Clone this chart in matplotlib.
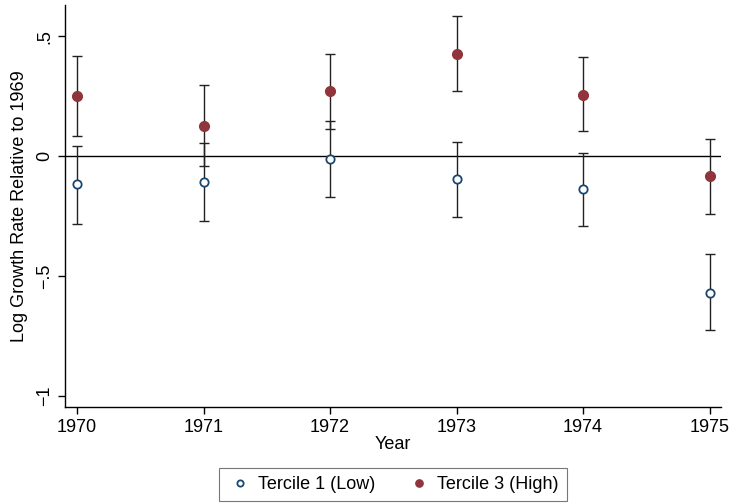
import numpy as np
import matplotlib.pyplot as plt

plt.rcParams['font.family'] = ['Liberation Sans', 'DejaVu Sans']

years = [1970, 1971, 1972, 1973, 1974, 1975]

# Tercile 1 (Low)
t1_est = [-0.118, -0.107, -0.012, -0.097, -0.139, -0.569]
t1_hi = [0.043, 0.053, 0.147, 0.057, 0.012, -0.409]
t1_lo = [-0.282, -0.270, -0.172, -0.253, -0.292, -0.727]

# Tercile 3 (High)
t3_est = [0.250, 0.126, 0.270, 0.427, 0.256, -0.085]
t3_hi = [0.417, 0.295, 0.425, 0.583, 0.412, 0.071]
t3_lo = [0.083, -0.040, 0.115, 0.270, 0.104, -0.241]

yticks = [-1, -0.5, 0, 0.5]
ytick_labels = ['\u22121', '\u2212.5', '0', '.5']

navy = '#1a476f'
maroon = '#90353b'

fig = plt.figure(figsize=(7.3, 5.04), dpi=100)
ax = fig.add_axes([65 / 730, 1 - 407 / 504, (721 - 65) / 730, (407 - 5) / 504])

ax.axhline(0, color='black', lw=1.0, zorder=1)

for est, lo, hi in [(t1_est, t1_lo, t1_hi), (t3_est, t3_lo, t3_hi)]:
    est = np.array(est)
    ax.errorbar(years, est, yerr=[est - np.array(lo), np.array(hi) - est],
                fmt='none', ecolor='#222222', elinewidth=1.0, capsize=3.3, capthick=1.0, zorder=2)

ax.plot(years, t1_est, 'o', ms=6, mfc='white', mec=navy, mew=1.3, ls='none',
        label='Tercile 1 (Low)', zorder=3)
ax.plot(years, t3_est, 'o', ms=7, mfc=maroon, mec=maroon, ls='none',
        label='Tercile 3 (High)', zorder=3)

ax.set_xlim(1969.905, 1975.09)
ax.set_ylim(-1.046, 0.630)
ax.set_xticks(years)
ax.set_xticklabels([str(y) for y in years], fontsize=13)
ax.set_yticks(yticks)
ax.set_yticklabels(ytick_labels, fontsize=13, rotation=90, va='center')
ax.tick_params(direction='out', length=5, width=1, color='black')

for s in ['top', 'right']:
    ax.spines[s].set_visible(False)
for s in ['left', 'bottom']:
    ax.spines[s].set_linewidth(1.0)

ax.set_xlabel('Year', fontsize=13, labelpad=0)
ax.set_ylabel('Log Growth Rate Relative to 1969', fontsize=13, labelpad=6)

leg = fig.legend(loc='upper center', bbox_to_anchor=(393 / 730, 1 - 468 / 504),
                 ncol=2, fontsize=13, frameon=True, fancybox=False,
                 edgecolor='#555555', handletextpad=0.3, columnspacing=1.7,
                 borderpad=0.45, borderaxespad=0, markerscale=0.75, handlelength=1.4)
leg.get_frame().set_linewidth(0.8)

fig.savefig('out.png', dpi=100)
